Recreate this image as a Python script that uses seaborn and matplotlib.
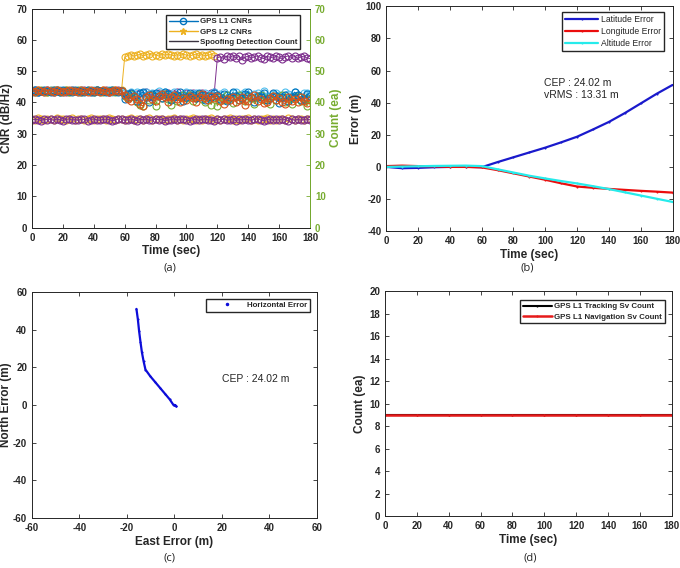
import numpy as np
import pandas as pd
import seaborn as sns
import matplotlib.pyplot as plt
from matplotlib.lines import Line2D

# ---- (a) CNR data, one value every 2 s (0-58 | 60-118 | 120-180) ----
time_cnr = list(range(0, 181, 2))
nan = np.nan

cnr_blue = [43.5, 43.9, 43.4, 43.8, 44.0, 43.6, 43.3, 43.9, 43.7, 43.5, 44.1, 43.6, 43.8, 43.4, 43.9,
            43.6, 43.8, 43.5, 44.0, 43.7, 43.4, 43.9, 43.6, 43.8, 43.5, 43.7, 44.0, 43.6, 43.4, 43.8,
            41.2, 42.8, 43.1, 42.0, 40.5, 42.9, 43.3, 41.8, 40.2, 42.6, 43.0, 42.2, 41.5, 43.4, 42.7,
            40.8, 41.9, 42.5, 43.2, 40.6, 41.7, 42.9, 42.3, 41.3, 43.1, 42.4, 40.9, 42.2, 41.6, 43.0,
            42.3, 41.1, 42.6, 40.4, 41.8, 43.2, 42.0, 40.7, 41.5, 42.8, 43.4, 41.9, 40.3, 42.2, 41.6,
            42.9, 40.8, 41.4, 43.0, 42.1, 39.8, 41.7, 42.5, 40.6, 41.9, 43.3, 42.4, 40.9, 41.2, 42.7, 42.0]
cnr_orange = [43.8, 43.4, 44.0, 43.6, 43.5, 43.9, 43.7, 43.4, 44.1, 43.8, 43.5, 43.7, 44.0, 43.6, 43.8,
              43.4, 43.9, 43.7, 43.5, 44.0, 43.6, 43.8, 43.4, 43.9, 43.7, 43.5, 43.8, 44.1, 43.6, 43.7,
              42.3, 41.0, 40.4, 42.1, 41.2, 39.4, 38.9, 41.6, 42.4, 41.0, 40.6, 42.0, 42.8, 41.9, 40.3,
              41.7, 42.5, 41.1, 40.2, 41.5, 40.8, 42.2, 41.3, 40.1, 41.8, 42.6, 41.4, 40.7, 42.0, 41.5,
              42.1, 40.5, 39.6, 41.2, 40.7, 41.9, 40.2, 40.9, 41.6, 39.2, 40.4, 41.8, 42.3, 40.6, 41.1,
              39.8, 40.3, 41.5, 42.0, 40.8, 41.3, 40.0, 39.5, 41.7, 40.6, 41.2, 40.1, 41.9, 40.4, 39.7, 40.9]
cnr_ltblue = [43.6, 43.9, 43.5, 43.7, 43.3, 43.8, 44.0, 43.5, 43.6, 43.9, 43.4, 43.8, 43.6, 44.0, 43.7,
              43.5, 43.9, 43.6, 43.8, 43.4, 44.0, 43.7, 43.5, 43.8, 43.6, 43.9, 43.4, 43.7, 43.8, 43.5,
              43.0, 42.5, 43.3, 42.8, 43.5, 42.1, 42.9, 43.4, 42.6, 43.1, 42.4, 43.6, 42.9, 43.2, 42.3,
              42.8, 43.4, 42.5, 41.9, 42.7, 43.3, 42.0, 42.6, 43.1, 41.8, 42.4, 43.0, 42.2, 42.7, 43.5,
              42.1, 42.8, 43.4, 42.5, 41.6, 42.9, 43.2, 42.0, 42.6, 43.5, 42.3, 41.8, 42.7, 43.1, 42.4,
              43.6, 42.2, 41.5, 42.8, 43.0, 42.5, 41.9, 43.3, 42.6, 42.0, 43.2, 42.4, 41.7, 42.9, 43.1, 42.3]
cnr_green = [43.7, 43.5, 43.8, 43.9, 43.6, 43.4, 43.8, 43.6, 43.9, 43.5, 43.7, 43.9, 43.5, 43.8, 43.6,
             43.9, 43.4, 43.7, 43.6, 43.8, 43.5, 43.9, 43.7, 43.4, 43.8, 43.6, 43.9, 43.5, 43.7, 43.6,
             42.0, 41.5, 42.6, 41.8, 40.2, 39.2, 38.8, 41.8, 40.9, 42.3, 39.0, 42.2, 41.4, 42.7, 41.1,
             39.1, 42.0, 40.6, 41.7, 42.4, 41.5, 42.3, 40.4, 41.9, 42.6, 41.0, 40.3, 42.1, 39.3, 41.6,
             38.9, 41.6, 40.8, 42.4, 41.3, 39.8, 41.9, 42.5, 41.2, 40.6, 42.0, 41.4, 39.6, 41.8, 42.3,
             40.9, 41.5, 39.4, 42.1, 40.7, 41.6, 42.4, 40.2, 41.1, 39.5, 41.8, 42.2, 40.5, 41.3, 38.8, 41.0]
cnr_yellow = [43.9, 43.6, 44.0, 43.7, 43.8, 43.5, 43.9, 44.1, 43.6, 43.8, 43.7, 44.0, 43.5, 43.9, 43.8,
              43.6, 44.0, 43.7, 43.9, 43.5, 43.8, 44.1, 43.6, 43.9, 43.7, 43.5, 43.8, 44.0, 43.6, 43.9,
              54.4, 55.0, 55.3, 54.8, 55.1, 55.4, 54.9, 55.2, 55.6, 55.0, 55.3, 54.8, 55.5, 55.1, 55.4,
              55.2, 54.9, 55.3, 55.0, 55.5, 55.1, 54.8, 55.2, 55.4, 55.0, 55.3, 54.9, 55.1, 55.4, 55.0,
              nan, nan, nan, nan, nan, nan, nan, nan, nan, nan, nan, nan, nan, nan, nan,
              nan, nan, nan, nan, nan, nan, nan, nan, nan, nan, nan, nan, nan, nan, nan, nan]
cnr_purple = [43.7, 43.9, 43.5, 43.8, 43.6, 44.0, 43.7, 43.4, 43.9, 43.6, 43.8, 43.5, 43.7, 43.9, 43.6,
              43.8, 43.4, 43.9, 43.7, 43.5, 43.8, 44.0, 43.6, 43.7, 43.9, 43.5, 43.8, 43.6, 43.9, 43.7,
              42.5, 41.8, 43.0, 42.2, 42.8, 41.6, 42.9, 43.2, 42.4, 41.9, 42.7, 43.1, 42.3, 42.8, 43.0,
              42.1, 42.6, 43.3, 41.7, 42.5, 42.9, 42.2, 43.1, 41.5, 42.7, 43.0, 42.4, 41.8, 42.9, 43.2,
              54.3, 54.6, 54.0, 54.8, 54.4, 54.9, 54.2, 54.7, 53.6, 54.5, 54.8, 54.1, 54.6, 54.9, 54.3,
              54.0, 54.7, 54.5, 54.2, 54.8, 54.4, 53.8, 54.6, 54.9, 54.3, 54.7, 54.1, 54.5, 54.8, 54.2, 54.0]
cnr_low_purple = [34.3, 34.7, 34.5, 34.2, 34.8, 34.4, 34.6, 34.3, 34.7, 34.5, 34.2, 34.6, 34.8, 34.4, 34.5,
                  34.3, 34.7, 34.6, 34.2, 34.5, 34.8, 34.4, 34.3, 34.6, 34.7, 34.5, 34.2, 34.4, 34.8, 34.6,
                  34.3, 34.5, 34.7, 34.4, 34.2, 34.6, 34.5, 34.8, 34.3, 34.4, 34.7, 34.5, 34.6, 34.2, 34.4,
                  34.5, 34.8, 34.3, 34.6, 34.7, 34.4, 34.2, 34.5, 34.7, 34.3, 34.6, 34.8, 34.4, 34.5, 34.2,
                  34.6, 34.4, 34.7, 34.3, 34.5, 34.8, 34.2, 34.6, 34.4, 34.7, 34.5, 34.3, 34.6, 34.8, 34.4,
                  34.2, 34.5, 34.7, 34.3, 34.6, 34.4, 34.8, 34.5, 34.2, 34.7, 34.3, 34.6, 34.4, 34.5, 34.8, 34.4]
cnr_low_yellow = [34.8, 34.5, 34.9, 34.6, 34.4, 34.8, 34.7, 34.5, 34.9, 34.6, 34.8, 34.4, 34.7, 34.9, 34.5,
                  34.6, 34.8, 34.4, 34.7, 34.9, 34.5, 34.6, 34.8, 34.7, 34.4, 34.9, 34.6, 34.5, 34.8, 34.7,
                  34.4, 34.6, 34.9, 34.5, 34.7, 34.8, 34.4, 34.6, 34.9, 34.5, 34.7, 34.6, 34.8, 34.4, 34.7,
                  34.6, 34.9, 34.5, 34.8, 34.4, 34.7, 34.6, 34.9, 34.5, 34.8, 34.4, 34.7, 34.6, 34.9, 34.5,
                  34.7, 34.5, 34.8, 34.6, 34.9, 34.4, 34.7, 34.5, 34.8, 34.6, 34.9, 34.5, 34.7, 34.4, 34.8,
                  34.6, 34.9, 34.5, 34.7, 34.4, 34.8, 34.6, 34.5, 34.9, 34.7, 34.4, 34.6, 34.8, 34.5, 34.7, 34.6]

# ---- (b)/(c) position errors, every 10 s ----
time_err = list(range(0, 181, 10))
lat_err = [0.0, -0.8, -0.6, -0.2, 0.0, 0.1, -0.2, 3.0, 6.0, 9.0, 12.0, 15.3, 18.8, 23.3, 28.0, 33.5, 39.5, 45.5, 51.0]
lon_err = [0.5, 0.8, 0.5, 0.3, 0.0, 0.0, -0.3, -2.0, -4.0, -6.0, -8.0, -10.2, -12.2, -13.0, -13.7, -14.3, -14.9, -15.4, -16.0]
alt_err = [0.0, 0.2, 0.4, 0.6, 0.7, 0.8, 0.5, -1.5, -3.5, -5.5, -7.2, -8.8, -10.3, -12.0, -13.8, -15.8, -17.8, -19.8, -21.8]

# ---- (d) satellite counts ----
time_cnt = [0, 20, 40, 60, 80, 100, 120, 140, 160, 180]
track_cnt = [9, 9, 9, 9, 9, 9, 9, 9, 9, 9]
nav_cnt = [9, 9, 9, 9, 9, 9, 9, 9, 9, 9]

# matlab default colours
C_BLUE = (0, 0.447, 0.741)
C_ORANGE = (0.85, 0.325, 0.098)
C_YELLOW = (0.929, 0.694, 0.125)
C_PURPLE = (0.494, 0.184, 0.556)
C_GREEN = (0.466, 0.674, 0.188)
C_LTBLUE = (0.301, 0.745, 0.933)

sns.set_theme(style='ticks')
plt.rcParams['font.family'] = ['Liberation Sans', 'DejaVu Sans']
plt.rcParams.update({
    'xtick.direction': 'in', 'ytick.direction': 'in',
    'xtick.major.size': 3, 'ytick.major.size': 3,
    'xtick.major.width': 0.6, 'ytick.major.width': 0.6,
    'axes.linewidth': 0.7, 'axes.edgecolor': '#262626',
    'xtick.labelsize': 7, 'ytick.labelsize': 7,
    'xtick.color': '#262626', 'ytick.color': '#262626',
    'font.weight': 'bold',
    'axes.unicode_minus': False,
})

fig = plt.figure(figsize=(6.8, 5.68), dpi=100)
ax_a = fig.add_axes([0.047, 0.599, 0.409, 0.386])
ax_b = fig.add_axes([0.568, 0.593, 0.421, 0.396])
ax_c = fig.add_axes([0.047, 0.088, 0.419, 0.398])
ax_d = fig.add_axes([0.566, 0.0915, 0.422, 0.396])

label_kw = dict(fontsize=8.5, fontweight='bold')
leg_kw = dict(fancybox=False, framealpha=1, edgecolor='#262626', prop={'size': 5.7, 'weight': 'bold'},
              borderpad=0.35, labelspacing=0.35, handlelength=3.6, handletextpad=0.3, borderaxespad=0)

# (a) - spoofed sats first so the genuine L1 band sits on top
cnr_series = [(cnr_low_yellow, C_YELLOW), (cnr_low_purple, C_PURPLE),
              (cnr_yellow, C_YELLOW), (cnr_purple, C_PURPLE),
              (cnr_ltblue, C_LTBLUE), (cnr_green, C_GREEN), (cnr_blue, C_BLUE),
              (cnr_orange, C_ORANGE)]
for vals, col in cnr_series:
    sns.lineplot(x=time_cnr, y=vals, ax=ax_a, color=col, lw=0.7, marker='o', markersize=5,
                 markerfacecolor='none', markeredgecolor=col, markeredgewidth=0.8, legend=False)
ax_a.set_xlim(0, 180)
ax_a.set_ylim(0, 70)
ax_a.set_xticks(range(0, 181, 20))
ax_a.set_yticks(range(0, 71, 10))
ax_a.tick_params(top=True, right=False)
ax_a.set_xlabel('Time (sec)', labelpad=2, **label_kw)
ax_a.set_ylabel('CNR (dB/Hz)', labelpad=2, **label_kw)
ax_a2 = ax_a.twinx()
ax_a2.set_ylim(0, 70)
ax_a2.set_yticks(range(0, 71, 10))
ax_a2.tick_params(axis='y', colors=C_GREEN, direction='in')
ax_a2.spines['right'].set_color(C_GREEN)
ax_a2.set_ylabel('Count (ea)', color=C_GREEN, labelpad=3, **label_kw)
handles_a = [Line2D([], [], color=C_BLUE, lw=1, marker='o', mfc='none', ms=4.5, label='GPS L1 CNRs'),
             Line2D([], [], color=C_YELLOW, lw=1, marker='*', ms=4.5, label='GPS L2 CNRs'),
             Line2D([], [], color='#3a3340', lw=1, label='Spoofing Detection Count')]
ax_a2.legend(handles=handles_a, loc='upper right', bbox_to_anchor=(0.965, 0.97), **leg_kw)

# (b)
err_df = pd.DataFrame({'time': time_err * 3,
                       'error': lat_err + lon_err + alt_err,
                       'kind': ['Latitude Error'] * 19 + ['Longitude Error'] * 19 + ['Altitude Error'] * 19})
err_pal = {'Latitude Error': (0.1, 0.1, 0.8), 'Longitude Error': (0.92, 0.05, 0.05),
           'Altitude Error': (0.15, 0.92, 0.92)}
sns.lineplot(data=err_df, x='time', y='error', hue='kind', palette=err_pal, ax=ax_b, lw=1.6,
             marker='.', markersize=3, markeredgewidth=0)
ax_b.set_xlim(0, 180)
ax_b.set_ylim(-40, 100)
ax_b.set_xticks(range(0, 181, 20))
ax_b.set_yticks(range(-40, 101, 20))
ax_b.tick_params(top=True, right=True)
ax_b.set_xlabel('Time (sec)', labelpad=2, **label_kw)
ax_b.set_ylabel('Error (m)', labelpad=2, **label_kw)
leg_b = ax_b.legend(loc='upper right', bbox_to_anchor=(0.97, 0.975),
                    **{**leg_kw, 'prop': {'size': 6.2, 'weight': 'normal'}, 'handlelength': 3.8})
for h in leg_b.get_lines():
    h.set_linewidth(1.6)
ax_b.text(99, 52, 'CEP : 24.02 m', fontsize=7.5, fontweight='normal', va='center', color='#262626')
ax_b.text(99, 44.5, 'vRMS : 13.31 m', fontsize=7.5, fontweight='normal', va='center', color='#262626')

# (c)
sns.lineplot(x=lon_err, y=lat_err, sort=False, ax=ax_c, color=(0.05, 0.05, 0.85), lw=1.6,
             marker='.', markersize=3, markeredgewidth=0, legend=False)
ax_c.set_xlim(-60, 60)
ax_c.set_ylim(-60, 60)
ax_c.set_xticks(range(-60, 61, 20))
ax_c.set_yticks(range(-60, 61, 20))
ax_c.tick_params(top=True, right=True)
ax_c.set_xlabel('East Error (m)', labelpad=2, **label_kw)
ax_c.set_ylabel('North Error (m)', labelpad=1, **label_kw)
ax_c.legend(handles=[Line2D([], [], color=(0.05, 0.05, 0.85), ls='none', marker='.', ms=3,
                            label='Horizontal Error')],
            loc='upper right', bbox_to_anchor=(0.975, 0.97), **{**leg_kw, 'handlelength': 4.5})
ax_c.text(20, 14, 'CEP : 24.02 m', fontsize=7.5, fontweight='normal', va='center', color='#262626')

# (d)
sns.lineplot(x=time_cnt, y=track_cnt, ax=ax_d, color='black', lw=1.5, marker='.', markersize=3,
             markeredgewidth=0, label='GPS L1 Tracking Sv Count')
sns.lineplot(x=time_cnt, y=nav_cnt, ax=ax_d, color=(0.9, 0.1, 0.1), lw=1.8, marker='.', markersize=3,
             markeredgewidth=0, label='GPS L1 Navigation Sv Count')
ax_d.set_xlim(0, 180)
ax_d.set_ylim(0, 20)
ax_d.set_xticks(range(0, 181, 20))
ax_d.set_yticks(range(0, 21, 2))
ax_d.tick_params(top=True, right=True)
ax_d.set_xlabel('Time (sec)', labelpad=2, **label_kw)
ax_d.set_ylabel('Count (ea)', labelpad=2, **label_kw)
ax_d.legend(loc='upper right', bbox_to_anchor=(0.975, 0.96), **leg_kw)

# captions
for x, y, s in [(0.25, 0.528, '(a)'), (0.775, 0.528, '(b)'), (0.25, 0.018, '(c)'), (0.78, 0.018, '(d)')]:
    fig.text(x, y, s, ha='center', va='center', fontsize=8, fontweight='normal',
             family=['Open Sans', 'DejaVu Sans'])

fig.savefig('out.png', dpi=100)
